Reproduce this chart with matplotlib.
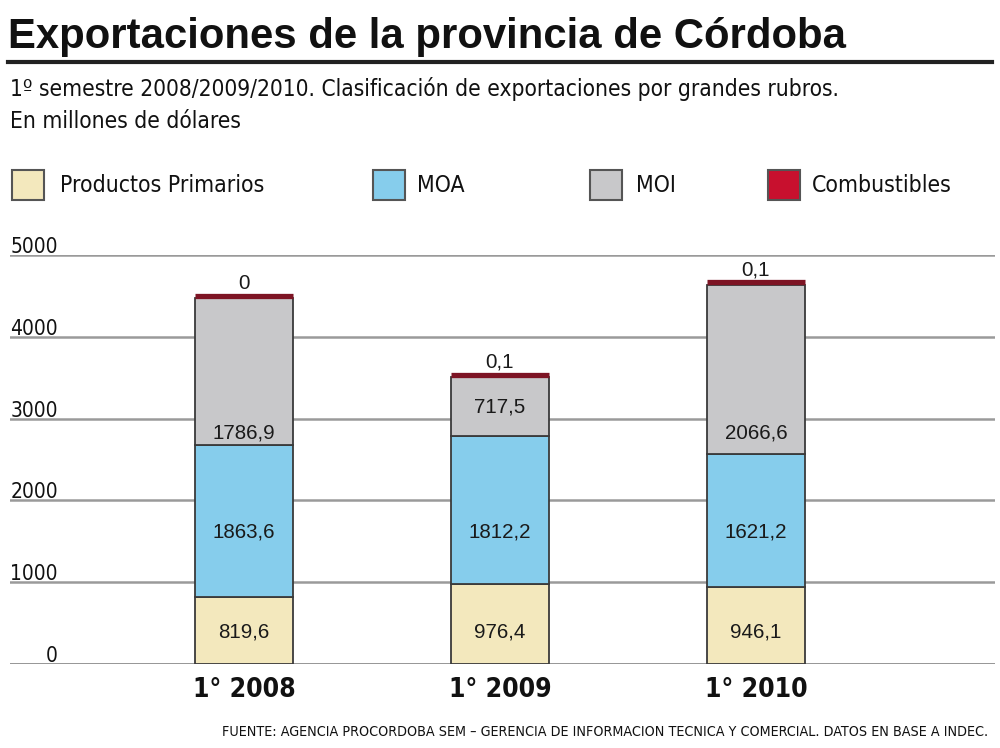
import matplotlib
matplotlib.use("Agg")
import matplotlib.pyplot as plt
from matplotlib.patches import Rectangle
from matplotlib.transforms import offset_copy

# data (millones de USD, 1er semestre)
years = ["1° 2008", "1° 2009", "1° 2010"]
series = ["Productos Primarios", "MOA", "MOI", "Combustibles"]
primarios = [819.6, 976.4, 946.1]
moa = [1863.6, 1812.2, 1621.2]
moi = [1786.9, 717.5, 2066.6]
combustibles = [0.0, 0.1, 0.1]
labels_pp = ["819,6", "976,4", "946,1"]
labels_moa = ["1863,6", "1812,2", "1621,2"]
labels_moi = ["1786,9", "717,5", "2066,6"]
labels_comb = ["0", "0,1", "0,1"]
yticks = [0, 1000, 2000, 3000, 4000, 5000]

colors = ["#f3e8bd", "#86cdec", "#c8c8ca", "#c8102e"]
edge = "#3a3a3a"

# condensed text like the newspaper graphic
narrow = dict(family="DejaVu Sans", stretch="condensed")

W, H = 1000, 748
fig = plt.figure(figsize=(W / 100, H / 100), dpi=100)


def fx(px):
    return px / W


def fy(py):
    return 1 - py / H


# title + rule
fig.text(fx(8), fy(37), "Exportaciones de la provincia de Córdoba", family="Liberation Sans",
         weight="bold", fontsize=30.2, va="center", ha="left", color="#111")
fig.add_artist(plt.Line2D([fx(8), fx(992)], [fy(62), fy(62)], color="#222", lw=3))
fig.text(fx(10), fy(89), "1º semestre 2008/2009/2010. Clasificación de exportaciones por grandes rubros.",
         fontsize=16.3, va="center", ha="left", color="#111", **narrow)
fig.text(fx(10), fy(122), "En millones de dólares", fontsize=16.3,
         va="center", ha="left", color="#111", **narrow)

# legend
leg_x = [(12, 60), (373, 417), (590, 636), (768, 812)]
for (sx, tx), name, c in zip(leg_x, series, colors):
    fig.add_artist(Rectangle((fx(sx), fy(200)), fx(32), 30 / H, facecolor=c,
                             edgecolor="#555", lw=1.5, transform=fig.transFigure))
    fig.text(fx(tx), fy(185), name, fontsize=16.5, va="center",
             ha="left", color="#111", **narrow)

# axes: 0 -> y 664 px, 5000 -> y 255 px
ax = fig.add_axes([fx(10), fy(664), fx(985), (664 - 255) / H])
ax.set_ylim(0, 5000)
xs = [0, 1, 2]
bw = 98 / 256
ax.set_xlim(-(244 - 10) / 256, 2 + (995 - 756) / 256)
for s in ax.spines.values():
    s.set_visible(False)
ax.set_xticks([])
ax.set_yticks([])

for t in yticks[1:]:
    ax.axhline(t, color="#9a9a9a", lw=1.8, zorder=0)
ax.axhline(0, color="#777", lw=1.8, zorder=0)

lab_trans = offset_copy(ax.get_yaxis_transform(), fig=fig, x=0, y=2, units="dots")
for t in yticks:
    ax.text(48 / 985, t, str(t), transform=lab_trans, fontsize=15,
            ha="right", va="baseline", color="#111", **narrow)

bottom = [0.0, 0.0, 0.0]
fixed_y = [390, 1610, 2830]
for vals, labs, c, fy_ in zip([primarios, moa, moi], [labels_pp, labels_moa, labels_moi],
                              colors[:3], fixed_y):
    ax.bar(xs, vals, bw, bottom=bottom, color=c, edgecolor=edge, lw=1.3, zorder=2)
    for i, (v, lab) in enumerate(zip(vals, labs)):
        top = bottom[i] + v
        y = fy_ if bottom[i] + 100 < fy_ < top - 100 else bottom[i] + v / 2
        ax.text(xs[i], y, lab, ha="center", va="center", family="Liberation Sans",
                fontsize=14.8, color="#1a1a1a", zorder=4)
    bottom = [b + v for b, v in zip(bottom, vals)]

# combustibles: valor casi nulo, se marca como franja sobre la columna
ax.bar(xs, combustibles, bw, bottom=bottom, color=colors[3], lw=0, zorder=3)
strip = offset_copy(ax.transData, fig=fig, x=0, y=2.5, units="dots")
tot = [b + v for b, v in zip(bottom, combustibles)]
ax.hlines(tot, [x - bw / 2 for x in xs], [x + bw / 2 for x in xs], colors="#7d1424",
          lw=3.8, transform=strip, zorder=5)
for x, t, lab in zip(xs, tot, labels_comb):
    ax.annotate(lab, (x, t), xytext=(0, 11), textcoords="offset points", ha="center",
                va="center", family="Liberation Sans", fontsize=14.8, color="#1a1a1a")

for x, yr in zip(xs, years):
    ax.annotate(yr, (x, 0), xytext=(0, -19), textcoords="offset points", ha="center",
                va="center", weight="bold", fontsize=19, color="#111",
                annotation_clip=False, **narrow)

fig.text(fx(988), fy(732), "FUENTE: AGENCIA PROCORDOBA SEM – GERENCIA DE INFORMACION TECNICA Y COMERCIAL. DATOS EN BASE A INDEC.",
         fontsize=10.3, ha="right", va="center", color="#111", **narrow)

fig.savefig("out.png", dpi=100, facecolor="white")
